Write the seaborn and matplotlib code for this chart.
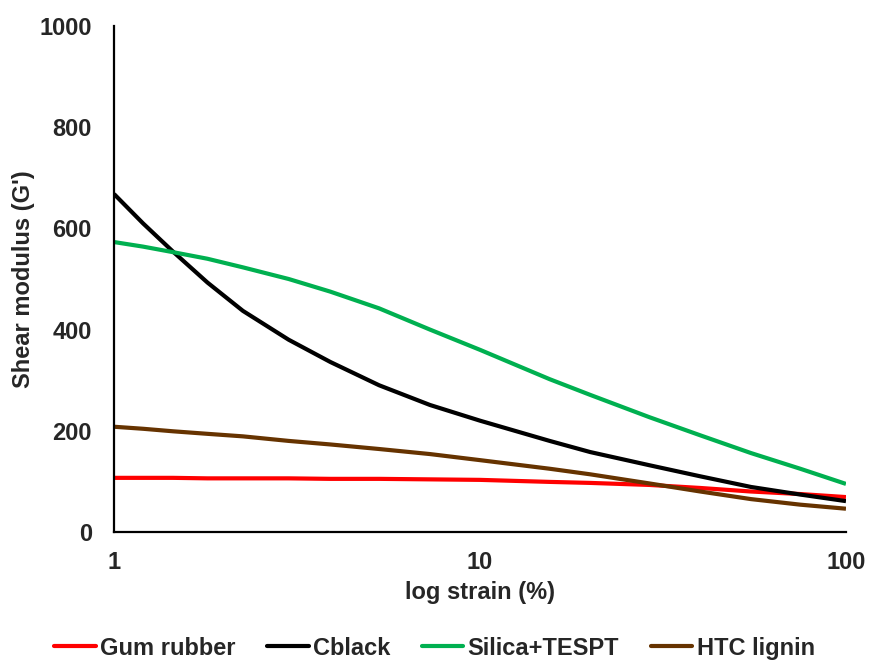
import matplotlib
matplotlib.use("Agg")
import matplotlib.pyplot as plt
import seaborn as sns
import pandas as pd

# Strain sweep (%) and shear modulus G' for each compound
strain = [1, 1.2, 1.45, 1.8, 2.25, 3, 3.9, 5.3, 7.3, 10, 15.5, 20, 29, 40, 55, 75, 100]
gum_rubber = [107, 107, 107, 106, 106, 106, 105, 105, 104, 103, 99, 97, 93, 87, 80, 75, 69]
cblack = [668, 610, 554, 493, 437, 380, 336, 290, 251, 220, 180, 158, 132, 110, 89, 74, 61]
silica_tespt = [573, 564, 553, 540, 523, 500, 475, 442, 400, 360, 302, 271, 227, 191, 156, 125, 95]
htc_lignin = [208, 204, 199, 194, 189, 180, 173, 164, 154, 142, 125, 114, 96, 80, 65, 54, 46]

series_names = ["Gum rubber", "Cblack", "Silica+TESPT", "HTC lignin"]
series_colors = ["#FF0000", "#000000", "#00B050", "#663300"]
y_ticks = [0, 200, 400, 600, 800, 1000]
x_ticks = [1, 10, 100]

frames = []
for name, vals in zip(series_names, [gum_rubber, cblack, silica_tespt, htc_lignin]):
    frames.append(pd.DataFrame({"strain": strain, "G": vals, "compound": name}))
df = pd.concat(frames, ignore_index=True)

sns.set_style("white")
plt.rcParams["font.family"] = ["Liberation Sans", "DejaVu Sans"]
plt.rcParams["font.weight"] = "bold"

FS = 17

fig, ax = plt.subplots(figsize=(8.69, 6.63), dpi=100)
fig.subplots_adjust(left=0.1312, right=0.9735, top=0.9608, bottom=0.1976)

sns.lineplot(data=df, x="strain", y="G", hue="compound", hue_order=series_names,
             palette=series_colors, linewidth=3.0, ax=ax, legend=False,
             estimator=None, sort=True)
for line in ax.get_lines():
    line.set_solid_joinstyle("round")
    line.set_solid_capstyle("butt")

ax.set_xscale("log")
ax.set_xlim(1, 100)
ax.set_ylim(0, 1000)
ax.set_xticks(x_ticks)
ax.set_xticklabels([str(t) for t in x_ticks])
ax.minorticks_off()
ax.set_yticks(y_ticks)
ax.tick_params(axis="both", length=0, labelsize=FS)
ax.tick_params(axis="y", pad=16)
ax.tick_params(axis="x", pad=14)
for lbl in ax.get_xticklabels() + ax.get_yticklabels():
    lbl.set_fontweight("bold")

for side in ["top", "right"]:
    ax.spines[side].set_visible(False)
for side in ["left", "bottom"]:
    ax.spines[side].set_color("black")
    ax.spines[side].set_linewidth(1.6)

ax.set_xlabel("log strain (%)", fontsize=FS, fontweight="bold", labelpad=5)
ax.set_ylabel("Shear modulus (G')", fontsize=FS, fontweight="bold", labelpad=3)

handles = [plt.Line2D([], [], color=c, linewidth=3.0) for c in series_colors]
fig.legend(handles, series_names, loc="lower center", bbox_to_anchor=(0.5, -0.027),
           ncol=4, frameon=False, prop={"size": FS, "weight": "bold"},
           handlelength=1.75, handletextpad=0.18, columnspacing=1.35)

fig.savefig("out.png", dpi=100, facecolor="white")
